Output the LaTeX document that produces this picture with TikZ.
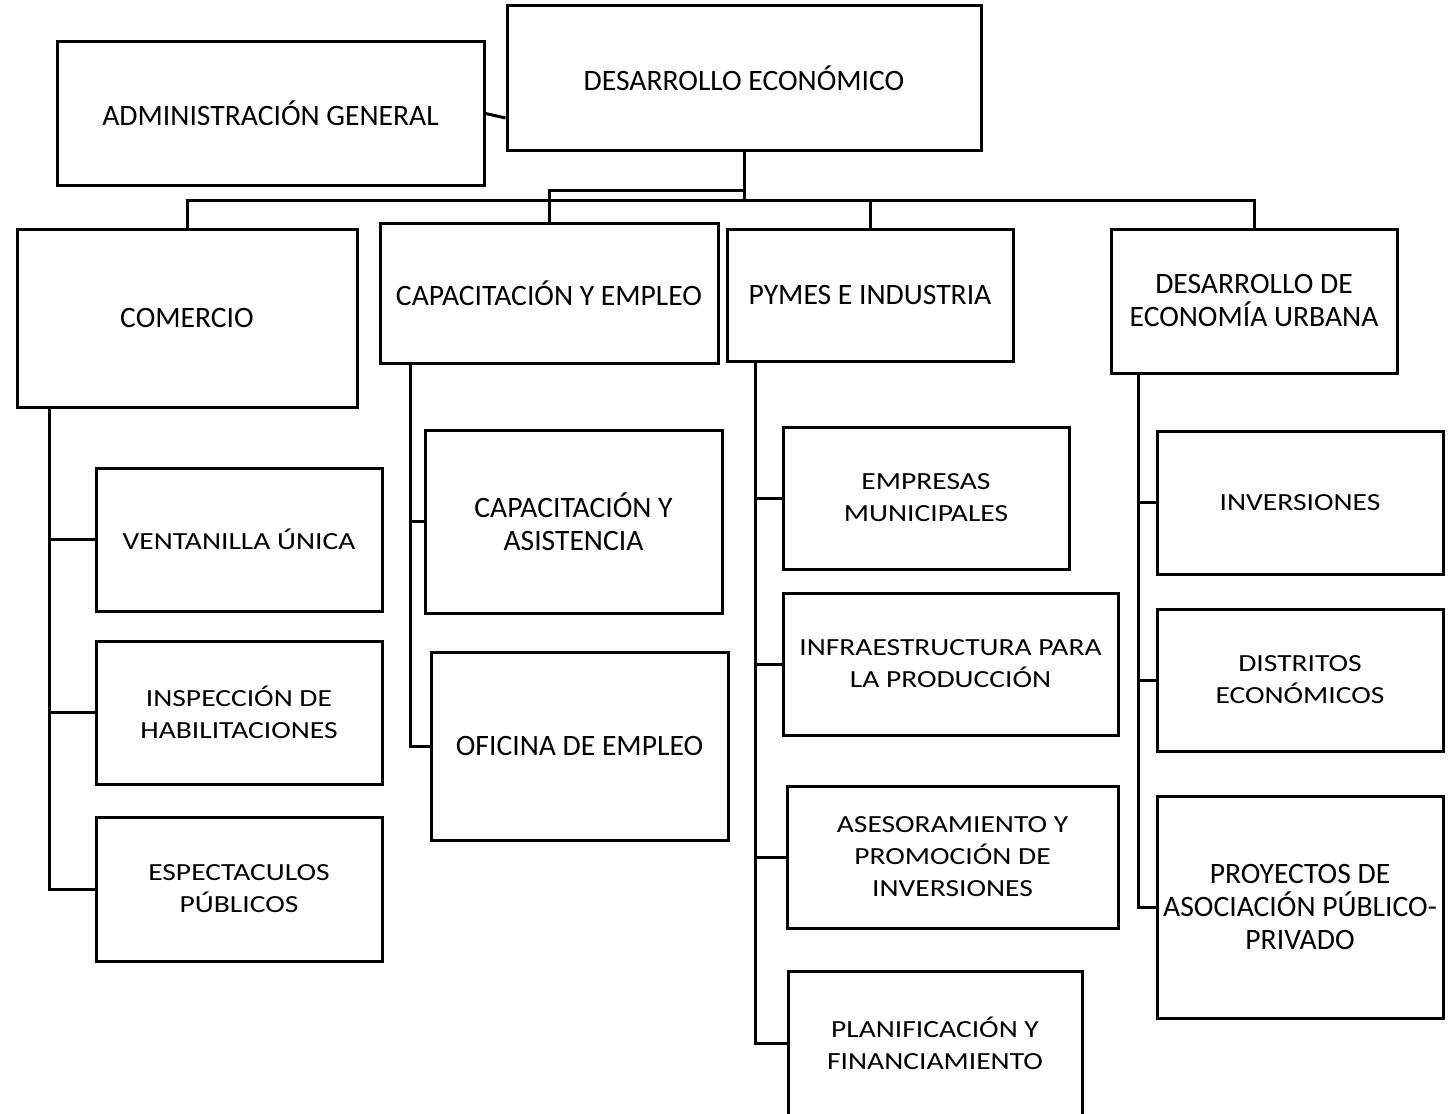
\documentclass[tikz,border=0pt]{standalone}
\usepackage{fontspec}
\setmainfont{Carlito}
\newfontfamily\widefont[FakeStretch=1.2]{Carlito}
\begin{document}
\begin{tikzpicture}[x=0.5pt,y=-0.5pt,
  box/.style={draw=black, line width=1.5pt, rectangle, inner sep=0pt, align=center,
    font=\fontsize{14.8}{16.5}\selectfont},
  wbox/.style={box, font=\widefont\fontsize{12.3}{16}\selectfont},
  link/.style={draw=black, line width=1.5pt}]
\useasboundingbox (0,0) rectangle (1449,1113);
% top level
\node[box, minimum width=237pt, minimum height=72pt] (des) at (744,78) {DESARROLLO ECONÓMICO};
\node[box, minimum width=213.5pt, minimum height=71.5pt] (adm) at (270.5,113.5) {ADMINISTRACIÓN GENERAL};
% second level
\node[box, minimum width=170pt, minimum height=89pt] (com) at (187,318) {COMERCIO};
\node[box, minimum width=169pt, minimum height=70pt] (cap) at (549,293) {CAPACITACIÓN Y EMPLEO};
\node[box, minimum width=143pt, minimum height=66pt] (pym) at (870,295) {PYMES E INDUSTRIA};
\node[box, minimum width=143pt, minimum height=72pt] (urb) at (1254,301) {DESARROLLO DE\\ECONOMÍA URBANA};
% comercio children
\node[wbox, minimum width=143pt, minimum height=71.5pt] (vent) at (239,539.5) {VENTANILLA ÚNICA};
\node[wbox, minimum width=143pt, minimum height=71.5pt] (insp) at (239,712.5) {INSPECCIÓN DE\\HABILITACIONES};
\node[wbox, minimum width=143pt, minimum height=72pt] (esp) at (239,889) {ESPECTACULOS\\PÚBLICOS};
% capacitacion children
\node[box, minimum width=148.5pt, minimum height=91.5pt] (casi) at (573.5,521.5) {CAPACITACIÓN Y\\ASISTENCIA};
\node[box, minimum width=148.5pt, minimum height=94pt] (ofi) at (579.5,746) {OFICINA DE EMPLEO};
% pymes children
\node[wbox, minimum width=143pt, minimum height=71pt] (emp) at (926,498) {EMPRESAS\\MUNICIPALES};
\node[wbox, minimum width=167.5pt, minimum height=71pt] (inf) at (950.5,664) {INFRAESTRUCTURA PARA\\LA PRODUCCIÓN};
\node[wbox, minimum width=165.5pt, minimum height=71pt] (ase) at (952.5,857) {ASESORAMIENTO Y\\PROMOCIÓN DE\\INVERSIONES};
\node[wbox, minimum width=147pt, minimum height=72.5pt] (pla) at (935,1043.5) {PLANIFICACIÓN Y\\FINANCIAMIENTO};
% urbana children
\node[wbox, minimum width=143pt, minimum height=71.5pt] (inv) at (1300,502.5) {INVERSIONES};
\node[wbox, minimum width=143pt, minimum height=71pt] (dis) at (1300,680) {DISTRITOS\\ECONÓMICOS};
\node[box, minimum width=143pt, minimum height=111pt] (pro) at (1300,907) {PROYECTOS DE\\ASOCIACIÓN PÚBLICO-\\PRIVADO};
% top connectors
\draw[link] (adm.east) -- ([yshift=-20pt]des.west);
\coordinate (bus) at (744,200);
\coordinate (up) at (744,190);
\draw[link] (des.south) -- (bus);
\draw[link] (com.north) -- (com.north |- bus) -- (urb.north |- bus) -- (urb.north);
\draw[link] (pym.north) -- (pym.north |- bus);
\draw[link] (cap.north) -- (cap.north |- up) -- (up);
% comercio trunk
\coordinate (comt) at ([xshift=17pt]com.south west);
\draw[link] (comt) |- (esp.west);
\draw[link] (vent.west) -- (vent.west -| comt);
\draw[link] (insp.west) -- (insp.west -| comt);
% capacitacion trunk
\coordinate (capt) at ([xshift=16pt]cap.south west);
\draw[link] (capt) |- (ofi.west);
\draw[link] (casi.west) -- (casi.west -| capt);
% pymes trunk
\coordinate (pymt) at ([xshift=15pt]pym.south west);
\draw[link] (pymt) |- (pla.west);
\draw[link] (emp.west) -- (emp.west -| pymt);
\draw[link] (inf.west) -- (inf.west -| pymt);
\draw[link] (ase.west) -- (ase.west -| pymt);
% urbana trunk
\coordinate (urbt) at ([xshift=14.5pt]urb.south west);
\draw[link] (urbt) |- (pro.west);
\draw[link] (inv.west) -- (inv.west -| urbt);
\draw[link] (dis.west) -- (dis.west -| urbt);
\end{tikzpicture}
\end{document}
